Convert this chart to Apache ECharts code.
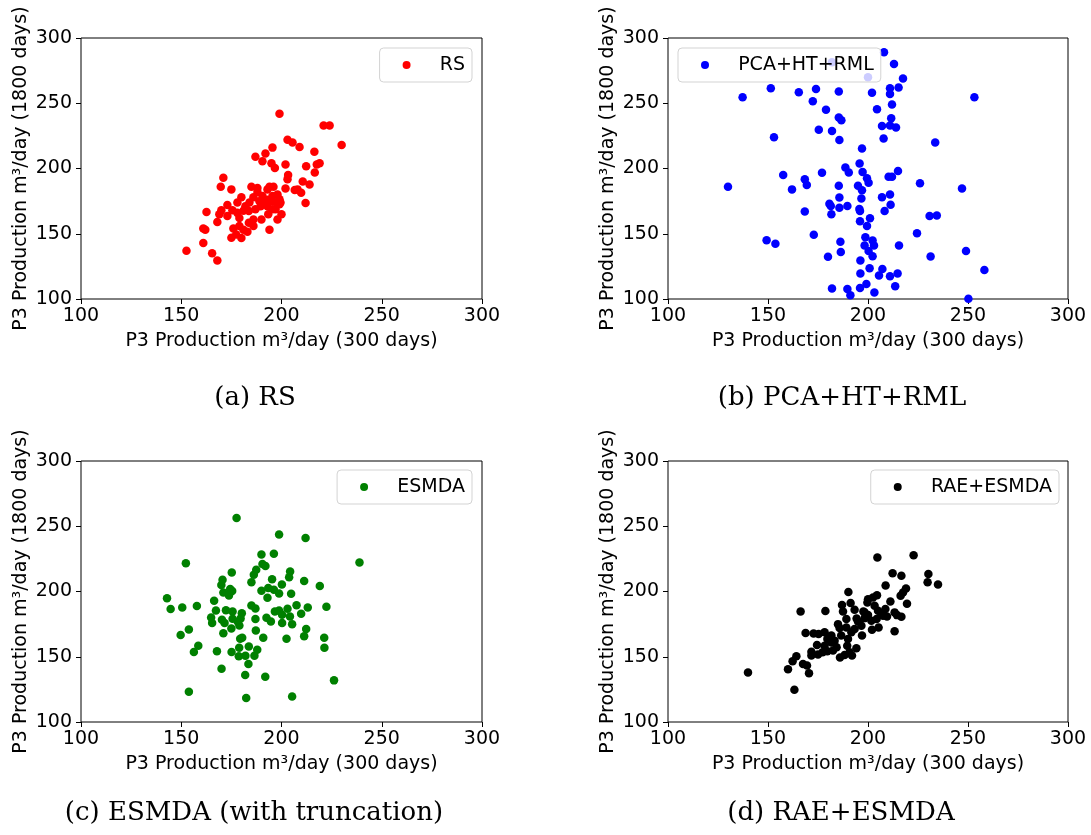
<!DOCTYPE html>
<html>
<head>
<meta charset="utf-8">
<script src="https://cdn.jsdelivr.net/npm/echarts@6/dist/echarts.min.js"></script>
<style>
html,body{margin:0;padding:0;background:#fff;}
#chart{width:1091px;height:835px;}
</style>
</head>
<body>
<div id="chart"></div>
<script>
// ---- data ----
const tickValues = [100, 150, 200, 250, 300];
const xLabel = 'P3 Production m³/day (300 days)';
const yLabel = 'P3 Production m³/day (1800 days)';
const seriesNames = ['RS', 'PCA+HT+RML', 'ESMDA', 'RAE+ESMDA'];
const seriesColors = ['#ff0000', '#0000ff', '#008000', '#000000'];
const captions = ['(a) RS', '(b) PCA+HT+RML', '(c) ESMDA (with truncation)', '(d) RAE+ESMDA'];

const rsPoints = [[199,242],[221,233],[224,233],[230,218],[203,222],[205.5,220],[209,216.4],[195.5,216],[187,209],[192,211.5],[190.5,205.6],[195,204],[196.7,200.3],[202,203],[216.4,212.8],[219,204],[217.6,203],[212.3,201.8],[216.6,197],[203.3,195],[203,191.8],[171,193],[169.7,186],[175,184],[185,186],[188,185],[194,186],[196,186],[202,184.6],[206.6,183.6],[210.6,190],[214,187.7],[209.8,181.5],[208,184],[212,173.6],[180,178],[173,172],[178,174],[170,168],[169,165],[162.6,166.7],[168,159],[175.5,168],[182,171],[183.7,167.4],[187,168.7],[189.6,171],[191,174],[193,176],[195.5,179],[198,180],[199,172.6],[197,168.7],[200,165],[193.4,165],[190,161],[186,161],[183.7,158.5],[179,162],[179,156],[176,154],[181,153],[183,151.5],[186,156],[198,161],[194,153],[161,154],[162,153],[161,143],[175,147],[180,146.7],[177.4,149.5],[152.6,137],[165.4,135],[168,129.5],[188,182],[190.5,179],[193,184],[195.5,175],[199,176.4],[199.5,174],[186,178],[189,175],[184,174],[181,167.6],[178,166],[173,163.6],[193,171],[198,172.5],[195.5,168.7]];

const pcaPoints = [[208,289],[182,281.5],[200,270],[213,280],[217.5,269],[151.4,261.5],[137.3,254.6],[165.4,258.5],[174,261],[185.4,259],[202,258],[211,261.5],[211,257],[215.3,262],[172.4,251.5],[212,249],[179,245],[204.5,245.4],[185.4,239],[186.7,237],[211.6,238.5],[207,232.6],[211,233],[214,231.5],[175.4,229.7],[182,228.7],[153,224],[185.7,221.8],[207.8,223],[253.2,254.6],[233.6,220],[197,215.4],[195.8,203.8],[188.7,200.8],[190.4,197],[197.3,197.4],[199.5,192.6],[200.3,189],[210.3,193.6],[212,193.6],[215,198],[157.6,195],[168.4,191.8],[169.4,187.4],[177,196.7],[130,186],[162,184],[185.4,186.7],[195,186.7],[197,183.3],[226,188.7],[247,184.6],[185.7,177.7],[196.7,177],[207,178],[211,180],[211.3,172.3],[208.3,167.4],[180.7,173],[181.4,171.3],[185.7,170],[189.7,171.3],[195.7,169],[196,167.4],[168.4,167],[181.7,164.9],[201,161.8],[196,159.5],[199.5,156],[230.8,163.6],[234.4,164],[224.5,150.3],[172.9,149.2],[149.3,145],[153.7,142.3],[198.7,147.4],[186.2,143.8],[202.3,144.9],[198.3,141],[203,141],[200.3,136.7],[202.3,132.8],[215.5,141],[186.4,136],[180,132.3],[231.3,132.6],[249,136.7],[196.2,129.5],[200.8,123.6],[196.2,119.5],[207.2,123],[205.5,118],[211,117.4],[214.8,119.5],[258.2,122.3],[182,108],[189.7,107.7],[196,108.5],[199.2,111.5],[213.6,109.7],[191.2,102.8],[203.2,105],[250.2,100.2]];

const esmdaPoints = [[177.6,256.4],[198.8,243.6],[212,241],[190,228.3],[196.2,229],[152.3,221.7],[238.9,222.2],[190.5,221],[192,219.6],[187.4,216.6],[186.2,212.8],[185,207],[175.2,214.5],[204.3,215.3],[203.8,211],[170.6,209],[170,205],[195.3,209.4],[200.2,205.4],[211.3,208],[219.1,204.3],[174.4,202],[175.4,200.3],[171,199.2],[173.8,197],[190,200.5],[193.4,202.6],[196.2,201.3],[198.8,198.5],[204.8,198.2],[193,195.2],[142.9,194.9],[144.7,186.5],[150.5,187.8],[157.8,188.8],[166.4,193],[185,189.3],[187,187],[207.5,189.5],[213.1,187.8],[222.4,188.3],[167.3,185.5],[172.3,185.7],[175.6,184.7],[180.2,183.4],[179.6,179.3],[164.9,180.1],[165.4,175.8],[170.3,178.3],[171.6,175.8],[175.6,179.1],[178.2,176.8],[179,174],[175,171.7],[171,168],[187,179],[192.5,179.8],[194.7,177],[196.7,184.7],[198.8,185.5],[200.3,182.1],[200.3,175.8],[203,186.7],[204.2,180.9],[205.3,175],[209.8,182.9],[212.3,171.2],[211.3,165.8],[221.3,164.5],[221.4,156.9],[202.5,163.8],[187.2,170.2],[190.9,164.5],[179.4,163.8],[180.4,164.5],[149.7,166.6],[153.8,170.9],[158.5,158.4],[156.3,153.6],[167.8,154.3],[175.1,153.6],[178.9,156.9],[183.7,157.9],[187.9,155.4],[186.5,150.8],[178.7,150.3],[182,150.8],[183.5,144.4],[170.1,140.8],[181.9,136],[191.9,134.7],[226.2,131.9],[153.8,123.2],[182.4,118.4],[205.3,119.6]];

const raePoints = [[140,137.9],[163.2,124.7],[160,140.5],[162.3,146.6],[164.2,150.4],[167.5,144.5],[169.5,143.3],[170.5,137.4],[166.3,184.7],[178.7,185],[168.8,168.2],[172.8,167.9],[175.3,167.4],[178.3,168.7],[171.7,153.9],[171.7,150.9],[174.5,159],[175,151.7],[177.3,153.4],[179.7,154.2],[179.7,163.6],[181.7,161],[183.3,162.3],[184.3,157.3],[186,149.4],[188.3,151.4],[192,150.9],[194.2,156.5],[189.6,158.5],[190,163.6],[186.6,166.2],[185.8,172],[189.2,172.5],[191.7,168.7],[193.3,171.2],[196.7,173.8],[197,166.2],[195,177.1],[198.3,179.6],[200,181.9],[201.7,177.6],[202,170.7],[205.3,172.5],[204.3,178.9],[206.7,182.7],[208.7,186.5],[209.5,180.9],[213.3,169.5],[214.5,181.9],[216.7,180.7],[211.2,192.4],[208.8,204.6],[212.3,214],[216.7,212],[204.7,226],[222.8,227.7],[230.2,213.5],[229.8,207.1],[235,205.3],[219,202.3],[217.5,199.2],[216.3,196.7],[219.5,190.6],[200,194.1],[199.7,191.6],[202.5,195.4],[204.5,197.2],[203.3,189.1],[197.7,184.7],[193.3,186],[191.3,191.1],[190.2,199.7],[187,189.6],[187.5,184.7],[194.3,179.4],[189.2,178.9],[185,175],[181.7,166.2],[178.3,158.5],[182.5,154.7],[190.8,153.4],[198.3,184],[205,185.2],[207.5,181.4],[213.3,184]];

const allPoints = [rsPoints, pcaPoints, esmdaPoints, raePoints];

// ---- layout ----
const FONT = '"DejaVu Sans", sans-serif';
const grids = [
  {left: 81, top: 38, width: 401, height: 261},
  {left: 668, top: 38, width: 400, height: 261},
  {left: 81, top: 461, width: 401, height: 261},
  {left: 668, top: 461, width: 400, height: 261}
];
const legendPos = [
  {right: 619, top: 48},
  {left: 678, top: 48},
  {right: 619, top: 470},
  {right: 32, top: 470}
];
const captionPos = [[255, 398], [842, 398], [254, 813], [841, 813]];

function axisCommon(isX, i) {
  return {
    type: 'value', gridIndex: i, min: tickValues[0], max: tickValues[tickValues.length - 1], interval: 50,
    name: isX ? xLabel : yLabel, nameLocation: 'middle', nameGap: isX ? 33 : 50,
    nameTextStyle: {fontFamily: FONT, fontSize: 19, color: '#000'},
    axisLine: {show: false},
    axisTick: {show: true, inside: false, length: 5, lineStyle: {color: '#000', width: 1}},
    axisLabel: {fontFamily: FONT, fontSize: 19, color: '#000', margin: isX ? 8 : 9},
    splitLine: {show: false}
  };
}

const option = {
  backgroundColor: '#fff',
  animation: false,
  grid: grids.map(g => Object.assign({show: true, borderColor: '#000', borderWidth: 1, backgroundColor: 'transparent'}, g)),
  xAxis: grids.map((g, i) => axisCommon(true, i)),
  yAxis: grids.map((g, i) => axisCommon(false, i)),
  legend: seriesNames.map((n, i) => Object.assign({
    data: [n], selectedMode: false, icon: 'circle', orient: 'horizontal',
    itemWidth: 8, itemHeight: 8,
    padding: [6, 7, 6, 23],
    formatter: name => '    ' + name,
    backgroundColor: 'rgba(255,255,255,0.8)', borderColor: '#d3d3d3', borderWidth: 1, borderRadius: 4,
    textStyle: {fontFamily: FONT, fontSize: 19, color: '#000', lineHeight: 22}
  }, legendPos[i])),
  series: seriesNames.map((n, i) => ({
    name: n, type: 'scatter', xAxisIndex: i, yAxisIndex: i, clip: true,
    symbol: 'circle', symbolSize: 8.5,
    itemStyle: {color: seriesColors[i], opacity: 1},
    emphasis: {disabled: true},
    data: allPoints[i]
  })),
  graphic: captions.map((c, i) => ({
    type: 'text', x: captionPos[i][0], y: captionPos[i][1],
    style: {text: c, font: '26px "DejaVu Serif", serif', fill: '#000', align: 'center', verticalAlign: 'middle'}
  }))
};

const chart = echarts.init(document.getElementById('chart'), null, {renderer: 'canvas'});
chart.setOption(option);
</script>
</body>
</html>
